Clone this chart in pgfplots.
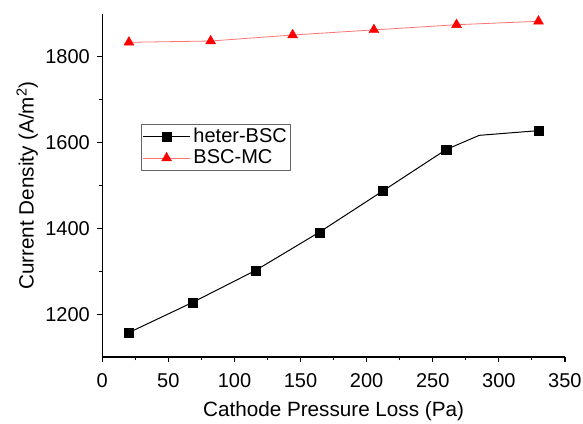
\documentclass[border=0pt]{standalone}
\usepackage{pgfplots}
\pgfplotsset{compat=1.18}
\usepackage{fontspec}
\setmainfont{Liberation Sans}
\begin{document}
\fontsize{15.5}{18}\selectfont
\begin{tikzpicture}
\begin{axis}[
  scale only axis,
  width=347pt, height=257.25pt,
  xmin=0, xmax=350, ymin=1100, ymax=1900,
  axis x line*=bottom, axis y line*=left,
  axis line style={line width=1.1pt},
  xtick={0,50,...,350}, ytick={1200,1400,1600,1800},
  minor x tick num=1, minor y tick num=1,
  tick align=outside,
  major tick length=4pt, minor tick length=2.5pt,
  every tick/.style={line width=0.9pt, black},
  /pgf/number format/assume math mode=true,
  /pgf/number format/1000 sep={},
  tick label style={font=\fontsize{15}{18}\selectfont},
  xticklabel style={yshift=-3pt},
  label style={font=\fontsize{15.5}{18}\selectfont},
  xlabel={Cathode Pressure Loss (Pa)},
  ylabel={Current Density (A/m\textsuperscript{2})},
  ylabel shift=-5pt,
  legend style={at={(axis cs:29,1643)}, anchor=north west,
    draw=black!60, line width=0.7pt, font=\fontsize{15}{18}\selectfont,
    inner xsep=1pt, inner ysep=0.5pt, row sep=-1pt},
  legend cell align=left,
  legend image code/.code={
    \draw[#1, mark=none] (0cm,0cm) -- (1.25cm,0cm);
    \draw[#1, draw=none, mark indices={1}] plot coordinates {(0.625cm,0cm)};
  },
]
\addplot[black, line width=0.75pt, mark=square*, mark size=3.4pt,
  mark indices={1,2,3,4,5,6,8}, mark options={solid, line width=0.3pt}]
coordinates {
(20.2,1157) (68.1,1227) (116,1302) (164.2,1391) (212.1,1487) (260.2,1584) (285.2,1617) (330.1,1628)
};
\addlegendentry{heter-BSC}
\addplot[red!55, line width=0.6pt, mark=triangle*, mark size=4.3pt,
  mark options={solid, red, fill=red, line width=0.3pt}]
coordinates {
(20.2,1834) (82,1837) (144,1851) (205.5,1863) (268,1875) (330,1883)
};
\addlegendentry{BSC-MC}
\end{axis}
\pgfresetboundingbox
\path[use as bounding box] (-76.7pt,-50.25pt) rectangle (360.55pt,267.75pt);
\end{tikzpicture}
\end{document}
